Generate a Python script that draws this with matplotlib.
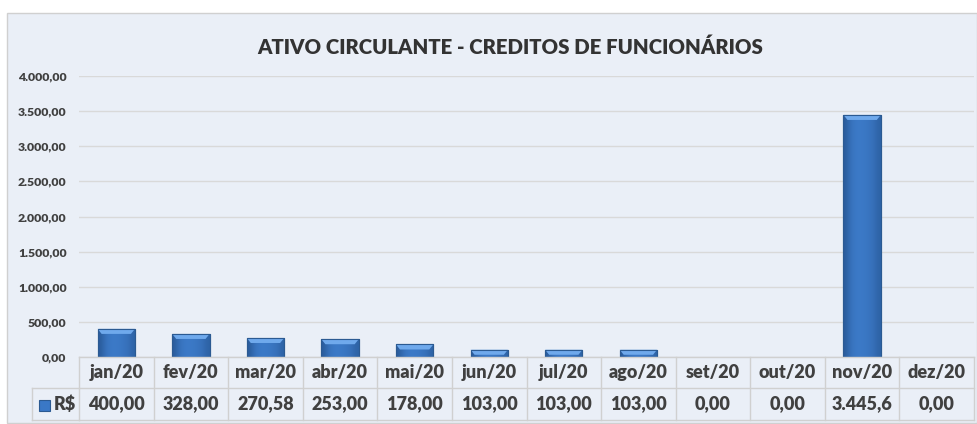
# Ativo circulante - creditos de funcionarios (bar chart + data table)

import matplotlib
matplotlib.use("Agg")
import matplotlib.pyplot as plt
from matplotlib.patches import Rectangle, Polygon
from matplotlib.lines import Line2D
import matplotlib.transforms as mtransforms
import numpy as np

months = ["jan/20", "fev/20", "mar/20", "abr/20", "mai/20", "jun/20",
          "jul/20", "ago/20", "set/20", "out/20", "nov/20", "dez/20"]
values = [400.00, 328.00, 270.58, 253.00, 178.00, 103.00,
          103.00, 103.00, 0.00, 0.00, 3445.60, 0.00]
# as shown in the table (nov cell is cut off in the original)
value_labels = ["400,00", "328,00", "270,58", "253,00", "178,00", "103,00",
                "103,00", "103,00", "0,00", "0,00", "3.445,6", "0,00"]
yticks = [0, 500, 1000, 1500, 2000, 2500, 3000, 3500, 4000]
series_name = "R$"
title = "ATIVO CIRCULANTE - CREDITOS DE FUNCIONÁRIOS"

BG = "#eaeff7"
TXT = "#404040"
GRID = "#d9d9d9"
FONT = ["Lato", "DejaVu Sans"]
WT = "heavy"


def br(v):
    s = f"{v:,.2f}"
    return s.replace(",", "X").replace(".", ",").replace("X", ".")


W, H = 977, 424
fig = plt.figure(figsize=(W / 100, H / 100), dpi=100)
fig.patch.set_facecolor("white")

# chart area background + border
fig.add_artist(Rectangle((7 / W, 1 - 423 / H), (977 - 7) / W, (423 - 13) / H,
                         transform=fig.transFigure, facecolor=BG,
                         edgecolor="#d0d0d0", linewidth=1, zorder=0))

ax = fig.add_axes([79 / W, 1 - 357 / H, (974 - 79) / W, (357 - 76) / H])
ax.set_facecolor("none")
ax.set_xlim(-0.5, len(months) - 0.5)
ax.set_ylim(0, 4000)
ax.set_yticks(yticks)
ax.set_yticklabels([br(v) for v in yticks], fontsize=8.8, fontweight=WT,
                   color=TXT, family=FONT)
ax.tick_params(axis="y", length=0, pad=9)
ax.set_xticks([])
for s in ax.spines.values():
    s.set_visible(False)
ax.grid(axis="y", color=GRID, linewidth=1)
ax.set_axisbelow(True)

fig.text(510 / W, 1 - 47 / H, title, ha="center", va="center", fontsize=14.7,
         fontweight=WT, color="#333333", family=FONT)

# bevelled bars
bw = 0.5
grad = np.array([[0.0, 0.55, 0.8, 0.85, 0.8, 0.7, 0.55, 0.2]])
cmap = matplotlib.colors.LinearSegmentedColormap.from_list(
    "b", ["#2a5c9c", "#3f7fcf"])
px = 4000 / ((357 - 76))  # data units per pixel
for i, v in enumerate(values):
    if v <= 0:
        continue
    x0, x1 = i - bw / 2, i + bw / 2
    rect = Rectangle((x0, 0), bw, v, facecolor="#3a78c6", edgecolor="#2b5a92",
                     linewidth=0.8, zorder=3)
    ax.add_patch(rect)
    im = ax.imshow(grad, cmap=cmap, aspect="auto", extent=(x0, x1, 0, v),
                   zorder=3.5, interpolation="bicubic", vmin=0, vmax=1)
    im.set_clip_path(rect)
    bh = min(5 * px, v * 0.7)
    ins = 4 / 74.6
    ax.add_patch(Polygon([(x0, v), (x1, v), (x1 - ins, v - bh), (x0 + ins, v - bh)],
                         closed=True, facecolor="#6fa9ec", edgecolor="none",
                         zorder=4))
    ax.add_patch(Rectangle((x0, 0), bw, v, facecolor="none", edgecolor="#2b5a92",
                           linewidth=0.8, zorder=5))

# data table
tr = mtransforms.blended_transform_factory(ax.transData, fig.transFigure)
ftr = fig.transFigure
y_top, y_mid, y_bot = 1 - 357 / H, 1 - 388 / H, 1 - 420 / H
xl = -0.5
xr = len(months) - 0.5
tcol = "#d0d0d0"
fig.add_artist(Line2D([xl, xr], [y_top, y_top], transform=tr, color=tcol, lw=1))
fig.add_artist(Line2D([xl, xr], [y_bot, y_bot], transform=tr, color=tcol, lw=1))
fig.add_artist(Line2D([32 / W, 79 / W], [y_mid, y_mid], transform=ftr, color=tcol, lw=1))
fig.add_artist(Line2D([32 / W, 79 / W], [y_bot, y_bot], transform=ftr, color=tcol, lw=1))
fig.add_artist(Line2D([xl, xr], [y_mid, y_mid], transform=tr, color=tcol, lw=1))
fig.add_artist(Line2D([32 / W, 32 / W], [y_mid, y_bot], transform=ftr, color=tcol, lw=1))
for k in range(len(months) + 1):
    fig.add_artist(Line2D([k - 0.5, k - 0.5], [y_top, y_bot], transform=tr,
                          color=tcol, lw=1))
for i, m in enumerate(months):
    fig.text(i, (y_top + y_mid) / 2, m, transform=tr, ha="center", va="center",
             fontsize=13, fontweight=WT, color=TXT, family=FONT)
    fig.text(i, (y_mid + y_bot) / 2, value_labels[i], transform=tr, ha="center",
             va="center", fontsize=13, fontweight=WT, color=TXT, family=FONT)

# legend key
fig.add_artist(Rectangle((39 / W, 1 - 411 / H), 11 / W, 11 / H, transform=ftr,
                         facecolor="#3a78c6", edgecolor="#2b5a92", lw=0.8))
fig.text(54 / W, (y_mid + y_bot) / 2, series_name, ha="left", va="center",
         fontsize=13, fontweight=WT, color=TXT, family=FONT)

fig.savefig("out.png", dpi=100)
